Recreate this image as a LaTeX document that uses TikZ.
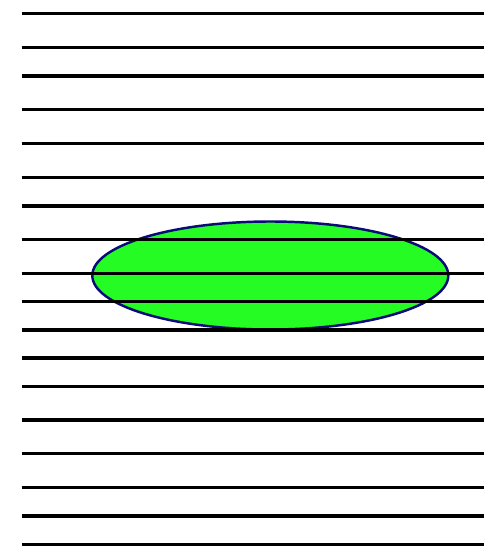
\documentclass[tikz,border=0pt]{standalone}
\usepackage{tikz}
\definecolor{blobgreen}{RGB}{36,252,36}
\definecolor{blobedge}{RGB}{10,10,120}

\begin{document}
\begin{tikzpicture}[x=0.02cm,y=-0.02cm]
  \useasboundingbox (0,0) rectangle (493,547);
  % green ellipse, behind the lines
  \draw[blobedge,fill=blobgreen,line width=1.4pt] (270.3,275.5) ellipse (178 and 54);
  % horizontal lines
  \foreach \y in {13.3,47.7,76,109.3,143.7,177.3,206,239.3,273.3,301.7,330,358,386.3,420,453.7,487.7,516,544.3}
    \draw[line width=1.9pt] (21.7,\y)--(484.3,\y);
\end{tikzpicture}
\end{document}
